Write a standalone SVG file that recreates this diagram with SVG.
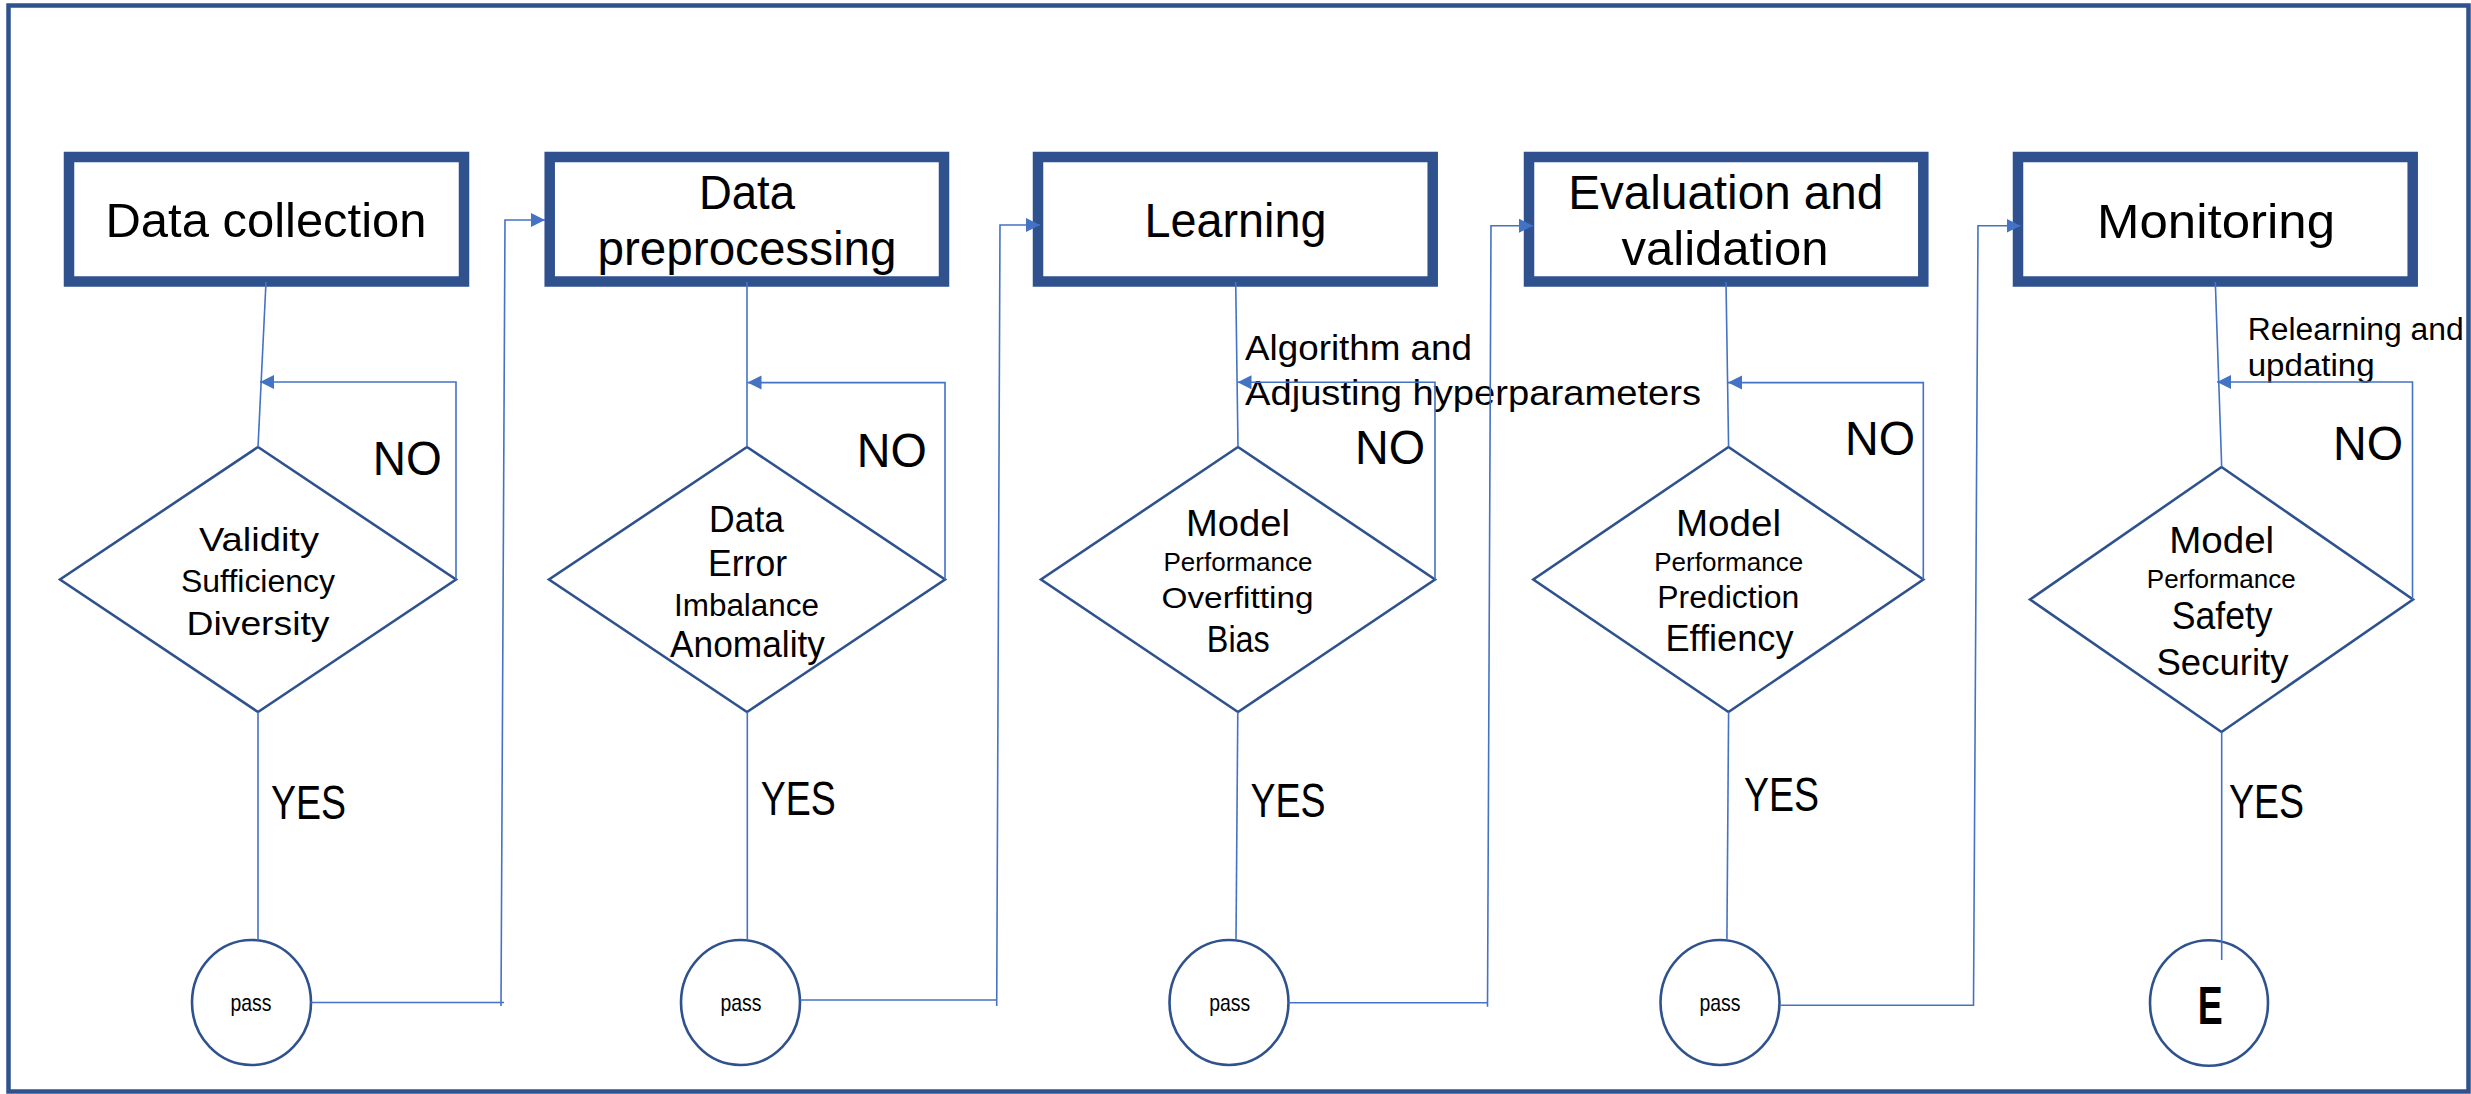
<svg xmlns="http://www.w3.org/2000/svg" width="2471" height="1094" viewBox="0 0 2471 1094">
<defs>
<style>
.frame{fill:#fff;stroke:#2F528F;stroke-width:4.5}
.box{fill:#fff;stroke:#2F528F;stroke-width:10.5}
.dia{fill:#fff;stroke:#2F528F;stroke-width:2.6}
.circ{fill:#fff;stroke:#2F528F;stroke-width:2.6}
.con{fill:none;stroke:#4472C4;stroke-width:1.6}
.arr{fill:none;stroke:#4472C4;stroke-width:1.6;marker-end:url(#ah)}
text{font-family:"Liberation Sans",Arial,sans-serif;fill:#000}
.t48{font-size:48px}
.c{text-anchor:middle}
</style>
<marker id="ah" markerUnits="userSpaceOnUse" markerWidth="16" markerHeight="16" refX="14" refY="7" orient="auto" viewBox="0 0 16 16">
<path d="M0,0 L14,7 L0,14 z" fill="#4472C4"/>
</marker>
</defs>
<rect class="frame" x="8.5" y="5.5" width="2460" height="1086"/>

<g id="box-data-collection">
<rect class="box" x="69" y="157" width="395" height="124.5"/>
<text class="t48 c" x="266" y="237" textLength="321" lengthAdjust="spacingAndGlyphs">Data collection</text>
</g>
<g id="box-data-preprocessing">
<rect class="box" x="549.7" y="157" width="394.3" height="124.5"/>
<text class="t48 c" x="747" y="209" textLength="96" lengthAdjust="spacingAndGlyphs">Data</text>
<text class="t48 c" x="747" y="264.7" textLength="299" lengthAdjust="spacingAndGlyphs">preprocessing</text>
</g>
<g id="box-learning">
<rect class="box" x="1038" y="157" width="394.7" height="124.5"/>
<text class="t48 c" x="1235.5" y="237.3" textLength="182" lengthAdjust="spacingAndGlyphs">Learning</text>
</g>
<g id="box-evaluation">
<rect class="box" x="1529" y="157" width="394.3" height="124.5"/>
<text class="t48 c" x="1725.8" y="209.2" textLength="315" lengthAdjust="spacingAndGlyphs">Evaluation and</text>
<text class="t48 c" x="1725" y="264.7" textLength="207" lengthAdjust="spacingAndGlyphs">validation</text>
</g>
<g id="box-monitoring">
<rect class="box" x="2018" y="157" width="394.7" height="124.5"/>
<text class="t48 c" x="2216" y="238.4" textLength="238" lengthAdjust="spacingAndGlyphs">Monitoring</text>
</g>

<g id="dec-1">
<polygon class="dia" points="258,447 456,579.5 258,712 60,579.5"/>
<text class="c" x="259" y="550.6" font-size="34" textLength="120" lengthAdjust="spacingAndGlyphs">Validity</text>
<text class="c" x="258" y="591.7" font-size="31" textLength="154" lengthAdjust="spacingAndGlyphs">Sufficiency</text>
<text class="c" x="258" y="634.8" font-size="34" textLength="143" lengthAdjust="spacingAndGlyphs">Diversity</text>
</g>
<g id="dec-2">
<polygon class="dia" points="747,447 945,579.5 747,712 549,579.5"/>
<text class="c" x="746.5" y="531.8" font-size="36" textLength="75" lengthAdjust="spacingAndGlyphs">Data</text>
<text class="c" x="747.5" y="575.8" font-size="36" textLength="79" lengthAdjust="spacingAndGlyphs">Error</text>
<text class="c" x="746.5" y="616" font-size="31" textLength="145" lengthAdjust="spacingAndGlyphs">Imbalance</text>
<text class="c" x="747.5" y="657.4" font-size="36" textLength="155" lengthAdjust="spacingAndGlyphs">Anomality</text>
</g>
<g id="dec-3">
<polygon class="dia" points="1238,447 1435,579.5 1238,712 1041,579.5"/>
<text class="c" x="1238" y="536" font-size="37" textLength="104" lengthAdjust="spacingAndGlyphs">Model</text>
<text class="c" x="1238" y="571" font-size="25" textLength="149" lengthAdjust="spacingAndGlyphs">Performance</text>
<text class="c" x="1237.5" y="607.7" font-size="30" textLength="152" lengthAdjust="spacingAndGlyphs">Overfitting</text>
<text class="c" x="1238.3" y="651.7" font-size="37" textLength="63" lengthAdjust="spacingAndGlyphs">Bias</text>
</g>
<g id="dec-4">
<polygon class="dia" points="1728.5,447 1923.3,579.5 1728.5,712 1533.3,579.5"/>
<text class="c" x="1728.5" y="535.7" font-size="37" textLength="105" lengthAdjust="spacingAndGlyphs">Model</text>
<text class="c" x="1728.7" y="571.3" font-size="25" textLength="149" lengthAdjust="spacingAndGlyphs">Performance</text>
<text class="c" x="1728.3" y="608.4" font-size="31" textLength="142" lengthAdjust="spacingAndGlyphs">Prediction</text>
<text class="c" x="1729.5" y="651.2" font-size="37" textLength="128" lengthAdjust="spacingAndGlyphs">Effiency</text>
</g>
<g id="dec-5">
<polygon class="dia" points="2221.5,467 2413,599.5 2221.5,732 2030,599.5"/>
<text class="c" x="2221.7" y="553.3" font-size="37" textLength="105" lengthAdjust="spacingAndGlyphs">Model</text>
<text class="c" x="2221.3" y="587.7" font-size="25" textLength="149" lengthAdjust="spacingAndGlyphs">Performance</text>
<text class="c" x="2222.2" y="629.3" font-size="38" textLength="101" lengthAdjust="spacingAndGlyphs">Safety</text>
<text class="c" x="2222.5" y="674.5" font-size="37" textLength="132" lengthAdjust="spacingAndGlyphs">Security</text>
</g>

<g id="pass-1">
<ellipse class="circ" cx="251.5" cy="1002.5" rx="59.5" ry="62.5"/>
<text class="c" x="251" y="1011" font-size="24" textLength="41" lengthAdjust="spacingAndGlyphs">pass</text>
</g>
<g id="pass-2">
<ellipse class="circ" cx="740.5" cy="1002.5" rx="59.5" ry="62.5"/>
<text class="c" x="741" y="1011" font-size="24" textLength="41" lengthAdjust="spacingAndGlyphs">pass</text>
</g>
<g id="pass-3">
<ellipse class="circ" cx="1229" cy="1002.5" rx="59.5" ry="62.5"/>
<text class="c" x="1229.7" y="1011" font-size="24" textLength="41" lengthAdjust="spacingAndGlyphs">pass</text>
</g>
<g id="pass-4">
<ellipse class="circ" cx="1720" cy="1002.5" rx="59.5" ry="62.5"/>
<text class="c" x="1720" y="1011" font-size="24" textLength="41" lengthAdjust="spacingAndGlyphs">pass</text>
</g>
<g id="end">
<ellipse class="circ" cx="2209" cy="1003" rx="59" ry="62.8"/>
<text class="c" x="2210.3" y="1024" font-size="54" font-weight="bold" textLength="25" lengthAdjust="spacingAndGlyphs">E</text>
</g>

<g id="labels">
<text class="t48" x="271" y="819" textLength="75" lengthAdjust="spacingAndGlyphs">YES</text>
<text class="t48" x="760.7" y="815" textLength="75" lengthAdjust="spacingAndGlyphs">YES</text>
<text class="t48" x="1250.4" y="817.3" textLength="75" lengthAdjust="spacingAndGlyphs">YES</text>
<text class="t48" x="1744" y="810.7" textLength="75" lengthAdjust="spacingAndGlyphs">YES</text>
<text class="t48" x="2229" y="818" textLength="75" lengthAdjust="spacingAndGlyphs">YES</text>
<text class="t48" x="372.8" y="475" textLength="69" lengthAdjust="spacingAndGlyphs">NO</text>
<text class="t48" x="856.7" y="466.8" textLength="70" lengthAdjust="spacingAndGlyphs">NO</text>
<text class="t48" x="1355" y="464.3" textLength="70" lengthAdjust="spacingAndGlyphs">NO</text>
<text class="t48" x="1845" y="454.5" textLength="70" lengthAdjust="spacingAndGlyphs">NO</text>
<text class="t48" x="2333" y="460" textLength="70" lengthAdjust="spacingAndGlyphs">NO</text>
<text x="1245" y="360" font-size="35" textLength="227" lengthAdjust="spacingAndGlyphs">Algorithm and</text>
<text x="1245" y="405" font-size="35" textLength="456" lengthAdjust="spacingAndGlyphs">Adjusting hyperparameters</text>
<text x="2247.7" y="340" font-size="31" textLength="216" lengthAdjust="spacingAndGlyphs">Relearning and</text>
<text x="2247.7" y="376" font-size="31" textLength="127" lengthAdjust="spacingAndGlyphs">updating</text>
</g>

<g id="connectors">
<path class="con" d="M266,282 L258,447"/>
<path class="con" d="M747,282 L747,447"/>
<path class="con" d="M1235.7,282 L1238,447"/>
<path class="con" d="M1726,282 L1728.6,447"/>
<path class="con" d="M2215.3,282 L2221.7,467"/>
<path class="arr" d="M456,579.5 V382 H260"/>
<path class="arr" d="M945,579.5 V382.6 H747.5"/>
<path class="arr" d="M1435,579.5 V382.3 H1237.5"/>
<path class="arr" d="M1923.3,579.5 V382.6 H1728"/>
<path class="arr" d="M2412.5,599.5 V382 H2217"/>
<path class="con" d="M258,712 V940"/>
<path class="con" d="M747.3,712 V940"/>
<path class="con" d="M1237.8,712 L1236,940"/>
<path class="con" d="M1728.6,712 L1726.9,940"/>
<path class="con" d="M2221.7,732 V960"/>
<path class="con" d="M311,1002.5 H504"/>
<path class="arr" d="M501,1006 L505,220 H545"/>
<path class="con" d="M800.4,1000 H997"/>
<path class="arr" d="M996.7,1006 L1000,225 H1040"/>
<path class="con" d="M1288.5,1002.7 H1488"/>
<path class="arr" d="M1487.5,1006.7 L1491,225.7 H1533"/>
<path class="arr" d="M1779.5,1005.3 H1973.5 L1978,225.8 H2020.5"/>
</g>
</svg>
